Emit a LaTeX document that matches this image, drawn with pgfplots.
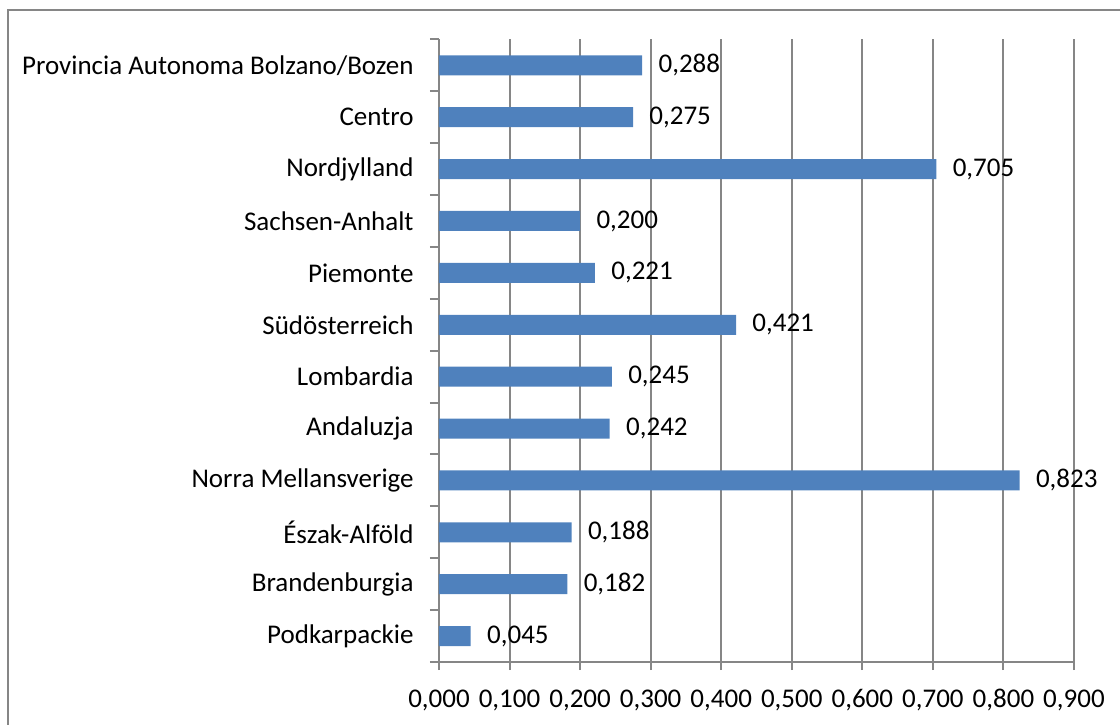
\documentclass[border=0pt]{standalone}
\usepackage{pgfplots}
\pgfplotsset{compat=1.18}
\usepackage{fontspec}
\setmainfont{Carlito}
\usetikzlibrary{calc}
\definecolor{barblue}{HTML}{4F81BD}
\definecolor{gridgray}{HTML}{868686}

\pgfplotstableread{
idx val
0 0.045
1 0.182
2 0.188
3 0.823
4 0.242
5 0.245
6 0.421
7 0.221
8 0.200
9 0.705
10 0.275
11 0.288
}\regiondata

\begin{document}
\fontsize{13.5pt}{16pt}\selectfont
\begin{tikzpicture}
\begin{axis}[
    xbar,
    scale only axis,
    width=317.5pt,
    height=311.3pt,
    xmin=0, xmax=0.9,
    ymin=-0.5, ymax=11.5,
    xtick={0,0.1,...,0.9},
    ytick={0,...,11},
    yticklabels={Podkarpackie, Brandenburgia, Észak-Alföld, Norra Mellansverige,
        Andaluzja, Lombardia, Südösterreich, Piemonte, Sachsen-Anhalt,
        Nordjylland, Centro, Provincia Autonoma Bolzano/Bozen},
    minor ytick={-0.5,0.5,...,11.5},
    axis lines*=left,
    axis line style={gridgray, line width=1pt},
    xmajorgrids,
    major grid style={gridgray, line width=1pt},
    tick align=outside,
    major tick length=4pt,
    minor tick length=4.5pt,
    tick style={gridgray, line width=1pt},
    major y tick style={draw=none},
    /pgf/number format/assume math mode=true,
    xticklabel={\pgfmathprintnumber[fixed,fixed zerofill,precision=3,use comma]{\tick}},
    xticklabel style={inner sep=0pt, anchor=base, yshift=-18.5pt},
    yticklabel style={inner sep=0pt, anchor=east, xshift=-8.5pt},
    bar width=10pt,
    point meta=x,
    nodes near coords={\pgfmathprintnumber[fixed,fixed zerofill,precision=3,use comma]{\pgfplotspointmeta}},
    nodes near coords style={anchor=west, inner sep=0pt, xshift=8pt, text=black},
]
\addplot[fill=barblue, draw=none] table[x=val, y=idx] {\regiondata};
\end{axis}
\draw[gridgray, line width=1pt]
    ($(current axis.south west)+(-215.5pt,-40pt)$) --
    ($(current axis.south west)+(-215.5pt,326pt)$) --
    ($(current axis.south west)+(350pt,326pt)$);
\pgfresetboundingbox
\path[use as bounding box] ($(current axis.south west)+(-219.5pt,-31pt)$) rectangle ($(current axis.south west)+(340.5pt,331pt)$);
\end{tikzpicture}
\end{document}
